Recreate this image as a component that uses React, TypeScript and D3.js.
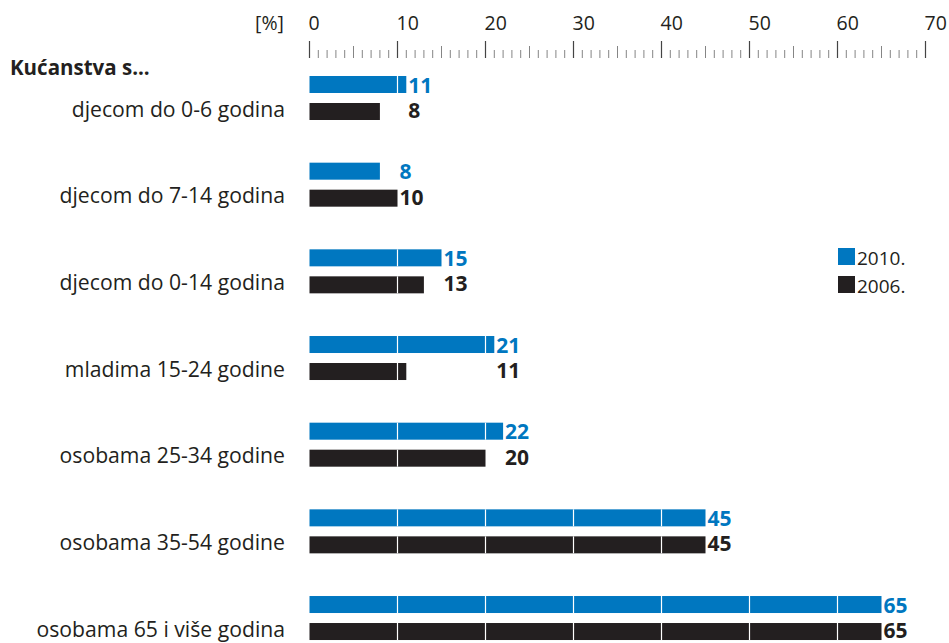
import React from "react";
import * as d3 from "d3";

const categories = [
  "djecom do 0-6 godina",
  "djecom do 7-14 godina",
  "djecom do 0-14 godina",
  "mladima 15-24 godine",
  "osobama 25-34 godine",
  "osobama 35-54 godine",
  "osobama 65 i više godina",
];
const values2010 = [11, 8, 15, 21, 22, 45, 65];
const values2006 = [8, 10, 13, 11, 20, 45, 65];
const seriesNames = ["2010.", "2006."];
const majorTicks = [0, 10, 20, 30, 40, 50, 60, 70];
const title = "Kućanstva s...";
const unit = "[%]";

const BLUE = "#0077c0";
const DARK = "#231f20";
const FONT = "'Open Sans', 'Noto Sans', sans-serif";

export default function App() {
  const W = 949;
  const H = 643;
  const x = d3.scaleLinear().domain([0, 70]).range([309.5, 925.5]);
  const band = d3
    .scaleBand<number>()
    .domain(d3.range(categories.length))
    .range([76, 76 + 86.67 * 7])
    .paddingInner(0)
    .paddingOuter(0);
  const barH = 17;
  const gap = 10;
  const allTicks = d3.range(0, 70.001, 1);

  return (
    <svg
      width={W}
      height={H}
      style={{ position: "absolute", left: 0, top: 0, background: "#fff" }}
      fontFamily={FONT}
    >
      {/* axis */}
      <text x={284} y={30} textAnchor="end" fontSize={19.5} fill={DARK}>
        {unit}
      </text>
      {majorTicks.map((t) => (
        <text key={"tl" + t} x={x(t) - 1} y={30} fontSize={19.5} fill={DARK}>
          {t}
        </text>
      ))}
      {allTicks.map((t) => {
        const major = t % 10 === 0;
        const mid = !major && t % 5 === 0;
        return (
          <line
            key={"tk" + t}
            x1={x(t)}
            x2={x(t)}
            y1={major ? 41 : mid ? 46 : 50}
            y2={58}
            stroke={major ? "#444" : "#777"}
            strokeWidth={major ? 1.2 : 0.9}
          />
        );
      })}

      <text x={10} y={75} fontSize={20.5} fontWeight={700} fill={DARK}>
        {title}
      </text>

      {categories.map((c, i) => {
        const y0 = band(i) as number;
        const y1 = y0 + barH + gap;
        const a = values2010[i];
        const b = values2006[i];
        const labelX = x(Math.max(a, b)) + 2;
        const seps = majorTicks.filter((t) => t > 0);
        return (
          <g key={c}>
            <text
              x={285}
              y={y1 + barH - 3.5}
              textAnchor="end"
              fontSize={21.2}
              fill={DARK}
            >
              {c}
            </text>
            <rect x={x(0)} y={y0} width={x(a) - x(0)} height={barH} fill={BLUE} />
            <rect x={x(0)} y={y1} width={x(b) - x(0)} height={barH} fill={DARK} />
            {seps
              .filter((t) => t < a)
              .map((t) => (
                <line key={"sa" + t} x1={x(t)} x2={x(t)} y1={y0} y2={y0 + barH} stroke="#fff" strokeWidth={1.2} />
              ))}
            {seps
              .filter((t) => t < b)
              .map((t) => (
                <line key={"sb" + t} x1={x(t)} x2={x(t)} y1={y1} y2={y1 + barH} stroke="#fff" strokeWidth={1.2} />
              ))}
            <text x={labelX} y={y0 + barH - 0.5} fontSize={21} fontWeight={700} fill={BLUE}>
              {a}
            </text>
            <text x={labelX} y={y1 + barH - 2} fontSize={21} fontWeight={700} fill={DARK}>
              {b}
            </text>
          </g>
        );
      })}

      {/* legend */}
      {seriesNames.map((s, i) => (
        <g key={s}>
          <rect x={838} y={248 + i * 28} width={17} height={17} fill={i === 0 ? BLUE : DARK} />
          <text x={857} y={265 + i * 28} fontSize={19} fill={DARK}>
            {s}
          </text>
        </g>
      ))}
    </svg>
  );
}
